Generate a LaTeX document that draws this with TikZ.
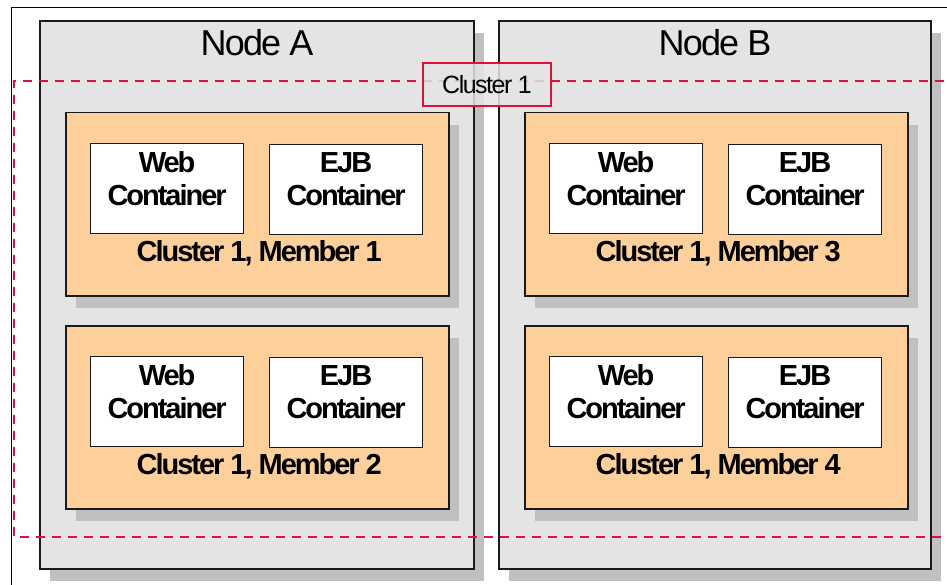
\documentclass[tikz,border=0pt]{standalone}
\usepackage{fontspec}
\setmainfont{Liberation Sans}
\newfontfamily\tightB[LetterSpace=-7]{Liberation Sans}
\newfontfamily\tightT[LetterSpace=-5]{Liberation Sans}
\newfontfamily\tightL[LetterSpace=-6]{Liberation Sans}
\usetikzlibrary{shadows,calc}
\definecolor{nodegray}{HTML}{E4E4E4}
\definecolor{shadowgray}{HTML}{C0C0C0}
\definecolor{peach}{HTML}{FDCF9B}
\definecolor{clred}{HTML}{E0103C}
\definecolor{edge}{HTML}{1A1A1A}
\tikzset{
  myshadow/.style={general shadow={shadow xshift=10pt, shadow yshift=-12pt, fill=shadowgray, draw=none}},
  nodebox/.style={draw=edge, line width=1.6pt, fill=nodegray, myshadow, inner sep=0pt},
  memberbox/.style={draw=edge, line width=1.5pt, fill=peach, myshadow, inner sep=0pt,
    minimum width=383pt, minimum height=183pt},
  cbox/.style={draw=edge, line width=1.2pt, fill=white, inner sep=0pt,
    minimum width=153pt, minimum height=90pt},
  ctext/.style={align=center, inner sep=0pt, font=\tightB\bfseries\fontsize{29}{33}\selectfont},
  mtext/.style={inner sep=0pt, font=\tightB\bfseries\fontsize{29}{33}\selectfont},
  titletext/.style={inner sep=0pt, font=\tightT\fontsize{36}{40}\selectfont},
  clusterline/.style={draw=clred, line width=1.8pt, dash pattern=on 9pt off 7pt},
  labelbox/.style={draw=clred, line width=1.5pt, fill=nodegray, fill opacity=0.85, text opacity=1,
    inner sep=0pt, font=\tightL\fontsize{25}{28}\selectfont}
}
\begin{document}
\begin{tikzpicture}[x=1pt,y=-1pt]
\useasboundingbox (0,0) rectangle (947,585);
\clip (0,0) rectangle (947,585);
\fill[white] (0,0) rectangle (947,585);
% outer frame
\node[draw=black, line width=1pt, inner sep=0pt, minimum width=960pt, minimum height=600pt, anchor=north west] (frame) at (11,7) {};
% nodes
\node[nodebox, minimum width=434pt, minimum height=548pt, anchor=north west] (nodeA) at (39,20) {};
\node[nodebox, minimum width=432pt, minimum height=548pt, anchor=north west] (nodeB) at (498,20) {};
\node[titletext] (titleA) at (257,43) {Node A};
\node[titletext] (titleB) at (715,43) {Node B};
% cluster region (dashed)
\coordinate (cTR) at (960,81);
\coordinate (cTL) at (14,81);
\coordinate (cBL) at (14,537);
\coordinate (cBR) at (960,537);
\draw[clusterline] (cTR) -- (cTL) -- (cBL) -- (cBR);
\node[labelbox, minimum width=128pt, minimum height=43pt] (clabel) at (487,84.5) {Cluster 1};
% members
\foreach \k/\x/\y in {1/65/112, 2/65/325, 3/524/112, 4/524/325} {
  \node[memberbox, anchor=north west] (m\k) at (\x,\y) {};
  \node[cbox, anchor=north west] (web\k) at (\x+25,\y+31) {};
  \node[cbox, anchor=north west] (ejb\k) at (\x+204,\y+32) {};
  \node[ctext] (webt\k) at ($(web\k.center)+(0,-10)$) {Web\\Container};
  \node[ctext] (ejbt\k) at ($(ejb\k.center)+(0,-10)$) {EJB\\Container};
  \node[mtext] (mt\k) at ($(m\k.north)+(2,141)$) {Cluster 1, Member \k};
}
\end{tikzpicture}
\end{document}
